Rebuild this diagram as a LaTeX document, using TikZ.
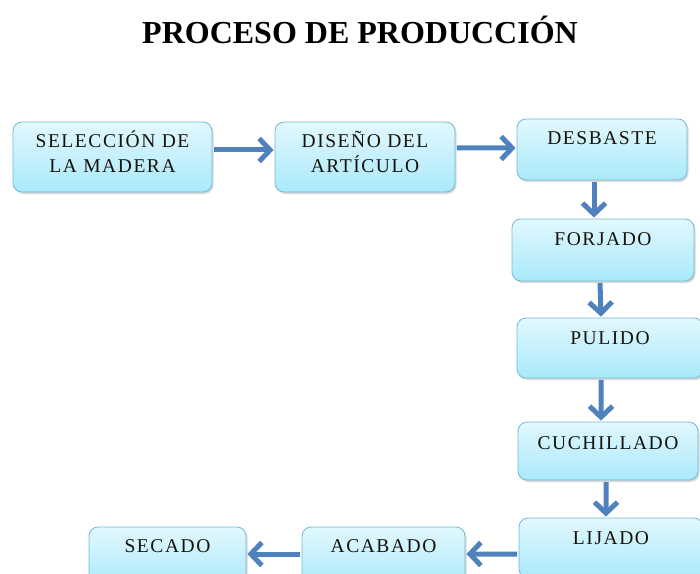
\documentclass[tikz,border=0pt]{standalone}
\usepackage{fontspec}
\setmainfont{Liberation Serif}
\newfontfamily\cajafont[LetterSpace=8]{Liberation Serif}
\usetikzlibrary{arrows.meta,shadows}

\definecolor{cajaarriba}{HTML}{E2F8FE}
\definecolor{cajaabajo}{HTML}{A9E9FA}
\definecolor{cajaborde}{HTML}{72BAD2}
\definecolor{azulflecha}{HTML}{4F81BD}
\definecolor{texto}{HTML}{16120C}

\tikzset{
  etapa/.style={draw=cajaborde, line width=0.8bp, rounded corners=9bp,
    top color=cajaarriba, bottom color=cajaabajo, inner sep=0pt,
    text height=26bp, align=center, text=texto,
    font=\cajafont\fontsize{19.5bp}{25bp}\selectfont,
    drop shadow={shadow xshift=1.5bp,shadow yshift=-2bp,opacity=0.3}},
  flujo/.style={draw=azulflecha, line width=5bp,
    -{Straight Barb[length=11bp,width=23bp]},
    shorten <=1.5bp, shorten >=1bp}
}

\begin{document}
\begin{tikzpicture}[x=1bp,y=-1bp]

\clip (0,0) rectangle (700,574);

% titulo
\node[font=\bfseries\fontsize{32bp}{36bp}\selectfont, anchor=base] (titulo) at (360,44) {PROCESO DE PRODUCCIÓN};

% fila de arriba (dos renglones: la altura cuenta hasta el ultimo)
\node[etapa, minimum width=199bp, text height=51bp, text depth=19bp] (sel) at (112.5,157) {SELECCIÓN DE\\LA MADERA};
\node[etapa, minimum width=180bp, text height=51bp, text depth=19bp] (dis) at (365,157) {DISEÑO DEL\\ARTÍCULO};
\node[etapa, minimum width=170bp, text depth=35bp] (des) at (602,149.5) {DESBASTE};

% columna derecha
\node[etapa, minimum width=182bp, text depth=36bp] (for) at (603,250) {FORJADO};
\node[etapa, minimum width=186bp, text depth=34bp] (pul) at (610,348) {PULIDO};
\node[etapa, minimum width=180bp, text height=27bp, text depth=31bp] (cuc) at (608,451) {CUCHILLADO};
\node[etapa, minimum width=184bp, text depth=34bp] (lij) at (611,548) {LIJADO};

% fila de abajo
\node[etapa, minimum width=163bp, text height=25bp, text depth=35bp] (aca) at (383.5,557) {ACABADO};
\node[etapa, minimum width=157bp, text height=25bp, text depth=35bp] (sec) at (167.5,557) {SECADO};

% flechas
\draw[flujo] ([yshift=7bp]sel.east) -- ([yshift=7bp]dis.west);
\draw[flujo] ([yshift=9bp]dis.east) -- ([yshift=1.5bp]des.west);
\draw[flujo] ([xshift=-8bp]des.south) -- ([xshift=-9bp]for.north);
\draw[flujo] ([xshift=-3bp]for.south) -- ([xshift=-9bp]pul.north);
\draw[flujo] ([xshift=-9bp]pul.south) -- ([xshift=-7bp]cuc.north);
\draw[flujo] ([xshift=-2bp]cuc.south) -- ([xshift=-5bp]lij.north);
\draw[flujo] ([yshift=-6bp]lij.west) -- ([yshift=3bp]aca.east);
\draw[flujo] ([yshift=3bp]aca.west) -- ([yshift=3bp]sec.east);

\end{tikzpicture}
\end{document}
